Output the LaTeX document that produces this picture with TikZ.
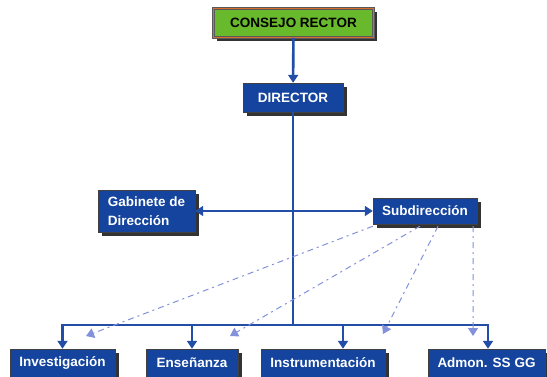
\documentclass[tikz,border=0pt]{standalone}
\usepackage{fontspec}
\setmainfont{Liberation Sans}
\usetikzlibrary{arrows.meta,shadows}
\definecolor{azul}{RGB}{20,68,158}
\definecolor{linea}{RGB}{35,78,168}
\definecolor{punteada}{RGB}{130,145,218}
\definecolor{verde}{RGB}{105,185,45}
\definecolor{naranja}{RGB}{215,110,45}
\begin{document}
\begin{tikzpicture}[x=1pt, y=-1pt,
    unidad/.style={draw=black!75, fill=azul, text=white, inner sep=2pt,
        font=\bfseries\fontsize{13.5}{19}\selectfont,
        drop shadow={shadow xshift=3.5pt, shadow yshift=-3.5pt, fill=black!80, opacity=1}},
    mando/.style={linea, line width=2.6pt},
    apoyo/.style={punteada, line width=1pt, dash pattern=on 6pt off 4pt on 2pt off 4pt,
        -{Triangle[width=10pt,length=8pt]}}]
    \useasboundingbox (0,0) rectangle (547,376);

    % Dirección
    \node[unidad, fill=verde, text=black, draw=black!65, double=naranja, double distance=1.6pt,
        line width=0.7pt, minimum width=160pt, minimum height=29pt] (consejo) at (293.5,23) {CONSEJO RECTOR};
    \node[unidad, minimum width=100pt, minimum height=29pt] (director) at (293,97.5) {DIRECTOR};
    \node[unidad, minimum width=97pt, minimum height=42pt, align=left] (gabinete) at (146.5,211) {Gabinete de\\Dirección};
    \node[unidad, minimum width=104pt, minimum height=26pt] (subdir) at (425,211) {Subdirección};

    % Unidades
    \node[unidad, minimum width=105pt, minimum height=28pt] (invest) at (62.5,363) {Investigación};
    \node[unidad, minimum width=92pt, minimum height=28pt] (ensen) at (192,363) {Enseñanza};
    \node[unidad, minimum width=124pt, minimum height=28pt] (instr) at (323,363) {Instrumentación};
    \node[unidad, minimum width=117pt, minimum height=28pt] (admon) at (486.5,363) {Admon. SS GG};

    % Línea de mando
    \coordinate (bus) at (293,325);
    \draw[mando, -{Triangle[width=10pt,length=8pt]}] (consejo) -- (director);
    \draw[mando] (director) -- (bus);
    \draw[mando, {Triangle[width=10pt,length=8pt]}-{Triangle[width=10pt,length=8pt]}] (gabinete) -- (subdir);
    \draw[mando, {Triangle[width=10pt,length=8pt]}-{Triangle[width=10pt,length=8pt]}]
        (invest.north) |- (bus) -| ([xshift=1.5pt]admon.north);
    \draw[mando, -{Triangle[width=10pt,length=8pt]}] (bus -| ensen.north) -- (ensen.north);
    \draw[mando, -{Triangle[width=10pt,length=8pt]}] (bus -| instr.north) ++(20,0) -- ([xshift=20pt]instr.north);

    % Apoyo de la Subdirección
    \coordinate (tipA) at (86,336);
    \coordinate (tipB) at (230,336);
    \coordinate (tipC) at (383,334);
    \coordinate (tipD) at (473,336);
    \draw[apoyo] ([yshift=-2pt]subdir.south west) -- (tipA);
    \draw[apoyo] ([xshift=-5pt,yshift=-2pt]subdir.south) -- (tipB);
    \draw[apoyo] ([xshift=13pt,yshift=-2pt]subdir.south) -- (tipC);
    \draw[apoyo] ([xshift=-4pt,yshift=-2pt]subdir.south east) -- (tipD);
\end{tikzpicture}
\end{document}
